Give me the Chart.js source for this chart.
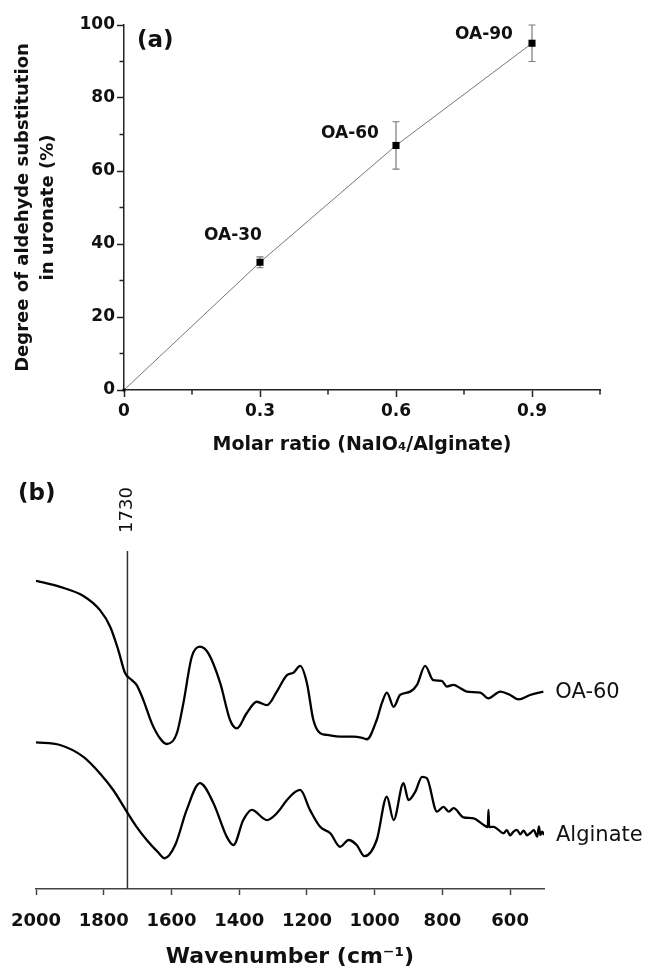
<!DOCTYPE html>
<html><head><meta charset="utf-8">
<script src="https://cdn.jsdelivr.net/npm/chart.js@4/dist/chart.umd.min.js"></script>
<style>html,body{margin:0;padding:0;background:#fff;}canvas{display:block;}</style>
</head><body>
<canvas id="ca" width="646" height="475"></canvas>
<canvas id="cb" width="646" height="494"></canvas>
<script>
// ---------- Panel (a) data ----------
const ratioValues = [0, 0.3, 0.6, 0.9];
const substitution = [0, 35, 67, 95];
const substitutionErr = [0, 1.5, 6.5, 5];
const sampleLabels = ['', 'OA-30', 'OA-60', 'OA-90'];
const ratioTicks = [0, 0.15, 0.3, 0.45, 0.6, 0.75, 0.9, 1.05];
const ratioTickLabels = ['0', '', '0.3', '', '0.6', '', '0.9', ''];
const substitutionTicks = [0, 10, 20, 30, 40, 50, 60, 70, 80, 90, 100];
const substitutionTickLabels = ['0', '', '20', '', '40', '', '60', '', '80', '', '100'];

// ---------- Panel (b) data ----------
const wavenumbersOA60 = [2000,1929,1860,1811,1781,1757,1737,1717,1703,1683,1658,1634,1614,1584,1565,1540,1516,1491,1456,1427,1407,1378,1348,1318,1289,1259,1240,1220,1200,1181,1161,1141,1102,1063,1033,1023,994,979,964,944,925,895,875,851,827,802,787,767,747,728,688,664,629,600,575,541,502];
const transmittanceOA60 = [91.2,89.4,86.7,82.5,77.6,70.7,63.9,61.8,60.4,55.9,49.0,44.6,42.9,46.1,54.9,68.7,71.7,69.7,60.9,50.0,47.5,52.0,55.4,54.4,58.4,63.3,64.0,66.0,60.9,50.0,46.1,45.6,45.1,45.1,44.6,44.3,50.0,54.9,58.1,53.9,57.4,58.4,60.4,66.0,61.8,61.6,59.9,60.4,59.4,58.4,58.1,56.4,58.4,57.4,56.1,57.4,58.4];
const wavenumbersAlginate = [2000,1929,1860,1811,1772,1732,1703,1673,1640,1620,1589,1555,1516,1476,1437,1417,1388,1363,1318,1289,1259,1240,1220,1191,1161,1131,1102,1077,1053,1030,994,964,944,915,900,880,860,846,816,797,781,767,738,708,678,666,664,662,649,619,610,600,590,580,570,560,550,541,530,520,515,511,505,500];
const transmittanceAlginate = [43.4,42.6,39.1,34.2,29.3,22.9,18.4,14.5,10.9,9.1,13.0,23.4,31.3,25.4,15.5,13.0,20.4,23.4,20.4,22.4,26.3,28.3,29.3,23.4,18.4,16.5,12.5,14.5,13.0,9.7,14.5,27.3,20.4,31.3,26.3,28.8,33.2,32.8,22.9,24.3,22.9,23.9,21.2,20.9,18.9,18.3,23.4,18.3,18.4,16.5,17.4,15.9,17.0,17.5,16.2,17.3,15.9,16.5,17.4,15.5,18.5,16.0,17.0,16.0];
const wavenumberTicks = [2000, 1800, 1600, 1400, 1200, 1000, 800, 600];
const markerWavenumber = 1730;
const spectrumNames = ['OA-60', 'Alginate'];

// ---------- styles ----------
const BOLD = 'bold 17px "DejaVu Sans"';
const labelOffsets = [[0,0], [-27,-27], [-46,-12], [-48,-9]];
const nameOffset = [12, 1];

const pickLabel = (vals, labels, v) => {
  const i = vals.findIndex(t => Math.abs(t - v) < 1e-6);
  return i >= 0 ? labels[i] : '';
};

const panelAPlugin = {
  id: 'panelA',
  beforeDatasetsDraw(chart) {
    const {ctx, scales: {x, y}} = chart;
    ctx.save();
    ctx.strokeStyle = '#7a7a7a';
    ctx.lineWidth = 1.2;
    ratioValues.forEach((rv, i) => {
      if (!substitutionErr[i]) return;
      const px = x.getPixelForValue(rv);
      const top = y.getPixelForValue(substitution[i] + substitutionErr[i]);
      const bot = y.getPixelForValue(substitution[i] - substitutionErr[i]);
      ctx.beginPath();
      ctx.moveTo(px, top); ctx.lineTo(px, bot);
      ctx.moveTo(px - 3.5, top); ctx.lineTo(px + 3.5, top);
      ctx.moveTo(px - 3.5, bot); ctx.lineTo(px + 3.5, bot);
      ctx.stroke();
    });
    ctx.restore();
  },
  afterDraw(chart) {
    const {ctx, scales: {x, y}, chartArea} = chart;
    ctx.save();
    ctx.strokeStyle = '#222';
    ctx.lineWidth = 1.5;
    ctx.beginPath();
    ratioTicks.forEach((v, i) => {
      if (ratioTickLabels[i] !== '') return;
      const px = x.getPixelForValue(v);
      ctx.moveTo(px, chartArea.bottom); ctx.lineTo(px, chartArea.bottom + 4.5);
    });
    substitutionTicks.forEach((v, i) => {
      if (substitutionTickLabels[i] !== '') return;
      const py = y.getPixelForValue(v);
      ctx.moveTo(chartArea.left, py); ctx.lineTo(chartArea.left - 4.5, py);
    });
    ctx.stroke();
    ctx.fillStyle = '#111';
    ctx.font = BOLD;
    ctx.textAlign = 'center';
    ctx.textBaseline = 'middle';
    ratioValues.forEach((rv, i) => {
      if (!sampleLabels[i]) return;
      ctx.fillText(sampleLabels[i], x.getPixelForValue(rv) + labelOffsets[i][0], y.getPixelForValue(substitution[i]) + labelOffsets[i][1]);
    });
    ctx.font = 'bold 23px "DejaVu Sans"';
    ctx.textAlign = 'left';
    ctx.fillText('(a)', chartArea.left + 13, chartArea.top + 16);
    ctx.restore();
  }
};

new Chart(document.getElementById('ca'), {
  type: 'scatter',
  data: {
    datasets: [{
      data: ratioValues.map((v, i) => ({x: v, y: substitution[i]})),
      showLine: true,
      borderColor: '#777',
      borderWidth: 1,
      pointStyle: 'rect',
      pointRadius: c => c.dataIndex === 0 ? 2 : 5,
      pointBackgroundColor: '#000',
      pointBorderColor: '#000',
      pointBorderWidth: 0,
      clip: false
    }]
  },
  options: {
    responsive: false,
    animation: false,
    events: [],
    layout: {padding: {left: 0, right: 46, top: 25, bottom: 0}},
    plugins: {legend: {display: false}, tooltip: {enabled: false}},
    scales: {
      x: {
        type: 'linear', min: 0, max: 1.05,
        afterBuildTicks: s => { s.ticks = ratioTicks.map(v => ({value: v})); },
        afterFit: s => { s.height = 85; s.paddingLeft = 0; s.paddingRight = 0; },
        border: {color: '#222', width: 1.5},
        grid: {drawOnChartArea: false, tickLength: 7, tickWidth: 1.5,
               tickColor: c => pickLabel(ratioTicks, ratioTickLabels, c.tick.value) === '' ? 'rgba(0,0,0,0)' : '#222'},
        ticks: {color: '#111', font: {family: 'DejaVu Sans', weight: 'bold', size: 17}, padding: 4, maxRotation: 0, autoSkip: false,
                callback: v => pickLabel(ratioTicks, ratioTickLabels, v)},
        title: {display: true, text: 'Molar ratio (NaIO₄/Alginate)', color: '#111',
                font: {family: 'DejaVu Sans', weight: 'bold', size: 19, lineHeight: 1.2}, padding: {top: 0, bottom: 19}}
      },
      y: {
        type: 'linear', min: 0, max: 100,
        afterBuildTicks: s => { s.ticks = substitutionTicks.map(v => ({value: v})); },
        afterFit: s => { s.width = 124; },
        border: {color: '#222', width: 1.5},
        grid: {drawOnChartArea: false, tickLength: 7, tickWidth: 1.5,
               tickColor: c => pickLabel(substitutionTicks, substitutionTickLabels, c.tick.value) === '' ? 'rgba(0,0,0,0)' : '#222'},
        ticks: {color: '#111', font: {family: 'DejaVu Sans', weight: 'bold', size: 17}, padding: 2, autoSkip: false,
                callback: v => pickLabel(substitutionTicks, substitutionTickLabels, v)},
        title: {display: true, text: ['Degree of aldehyde substitution', 'in uronate (%)'], color: '#111',
                font: {family: 'DejaVu Sans', weight: 'bold', size: 18, lineHeight: 1.43}, padding: {top: 10, bottom: 0}}
      }
    }
  },
  plugins: [panelAPlugin]
});

// ---------- Panel (b) ----------
const panelBPlugin = {
  id: 'panelB',
  afterDraw(chart) {
    const {ctx, scales: {x}, chartArea} = chart;
    ctx.save();
    ctx.fillStyle = '#111';
    ctx.font = 'bold 23px "DejaVu Sans"';
    ctx.textAlign = 'left';
    ctx.textBaseline = 'middle';
    ctx.fillText('(b)', 18, 19);
    ctx.save();
    ctx.translate(x.getPixelForValue(markerWavenumber), chartArea.top - 41);
    ctx.rotate(-Math.PI / 2);
    ctx.font = '18px "DejaVu Sans"';
    ctx.textAlign = 'center';
    ctx.fillText(String(markerWavenumber), 0, 0);
    ctx.restore();
    ctx.font = '21px "DejaVu Sans"';
    ctx.textAlign = 'left';
    chart.data.datasets.slice(0, 2).forEach((ds, i) => {
      const meta = chart.getDatasetMeta(i);
      const last = meta.data[meta.data.length - 1];
      ctx.fillText(spectrumNames[i], last.x + nameOffset[0], last.y + nameOffset[1]);
    });
    ctx.restore();
  }
};

const specStyle = {borderColor: '#000', borderWidth: 2.3, pointRadius: 0, cubicInterpolationMode: 'monotone', showLine: true, fill: false};

new Chart(document.getElementById('cb'), {
  type: 'scatter',
  data: {
    datasets: [
      Object.assign({data: wavenumbersOA60.map((w, i) => ({x: w, y: transmittanceOA60[i]}))}, specStyle),
      Object.assign({data: wavenumbersAlginate.map((w, i) => ({x: w, y: transmittanceAlginate[i]}))}, specStyle),
      {data: [{x: markerWavenumber, y: 0}, {x: markerWavenumber, y: 100}], showLine: true, borderColor: '#333', borderWidth: 1.5, pointRadius: 0}
    ]
  },
  options: {
    responsive: false,
    animation: false,
    events: [],
    layout: {padding: {left: 36, right: 102, top: 76, bottom: 0}},
    plugins: {legend: {display: false}, tooltip: {enabled: false}},
    scales: {
      x: {
        type: 'linear', min: 500, max: 2000, reverse: true,
        afterBuildTicks: s => { s.ticks = wavenumberTicks.map(v => ({value: v})); },
        afterFit: s => { s.height = 80; s.paddingLeft = 0; s.paddingRight = 0; },
        border: {color: '#444', width: 1.5},
        grid: {drawOnChartArea: false, tickLength: 6, tickWidth: 1.5, tickColor: '#444'},
        ticks: {color: '#111', font: {family: 'DejaVu Sans', weight: 'bold', size: 18}, padding: 16, maxRotation: 0, autoSkip: false,
                callback: v => String(v)},
        title: {display: true, text: 'Wavenumber (cm⁻¹)', color: '#111',
                font: {family: 'DejaVu Sans', weight: 'bold', size: 22, lineHeight: 1.0}, padding: {top: 0, bottom: 1}}
      },
      y: {type: 'linear', min: 0, max: 100, display: false}
    }
  },
  plugins: [panelBPlugin]
});
</script>
</body></html>
